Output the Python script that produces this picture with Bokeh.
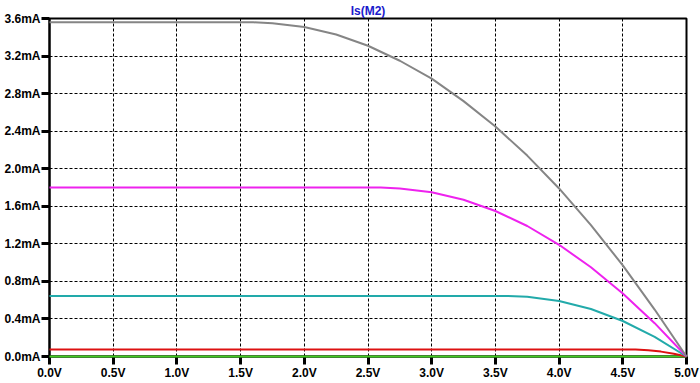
from bokeh.plotting import figure
from bokeh.models import Range1d, PrintfTickFormatter, FixedTicker
from bokeh.embed import file_html
from bokeh.resources import INLINE

# Voltage axis (V) and currents (mA)
v_gray = [0.0, 0.5, 1.0, 1.5, 1.6, 1.75, 2.0, 2.25, 2.5, 2.75, 3.0, 3.25, 3.5, 3.75, 4.0, 4.25, 4.5, 4.75, 5.0]
i_gray = [3.56, 3.56, 3.56, 3.56, 3.56, 3.55, 3.51, 3.43, 3.31, 3.15, 2.96, 2.72, 2.45, 2.14, 1.79, 1.40, 0.97, 0.50, 0.0]

v_mag = [0.0, 1.0, 2.0, 2.6, 2.75, 3.0, 3.25, 3.5, 3.75, 4.0, 4.25, 4.5, 4.75, 5.0]
i_mag = [1.80, 1.80, 1.80, 1.80, 1.79, 1.75, 1.67, 1.55, 1.39, 1.19, 0.95, 0.67, 0.355, 0.0]

v_cyan = [0.0, 1.0, 2.0, 3.0, 3.6, 3.75, 4.0, 4.25, 4.5, 4.75, 5.0]
i_cyan = [0.645, 0.645, 0.645, 0.645, 0.645, 0.637, 0.592, 0.506, 0.378, 0.21, 0.0]

v_red = [0.0, 1.0, 2.0, 3.0, 4.0, 4.55, 4.6, 4.7, 4.8, 4.9, 5.0]
i_red = [0.075, 0.075, 0.075, 0.075, 0.075, 0.075, 0.074, 0.067, 0.052, 0.03, 0.0]

v_green = [0.0, 5.0]
i_green = [0.0, 0.0]

x_ticks = [0.0, 0.5, 1.0, 1.5, 2.0, 2.5, 3.0, 3.5, 4.0, 4.5, 5.0]
y_ticks = [0.0, 0.4, 0.8, 1.2, 1.6, 2.0, 2.4, 2.8, 3.2, 3.6]
title_text = "Is(M2)"

p = figure(width=700, height=383, output_backend="svg", toolbar_location=None,
           x_range=Range1d(0, 5), y_range=Range1d(0, 3.6),
           min_border_left=49, min_border_right=14, min_border_top=18, min_border_bottom=27)
p.background_fill_color = "white"
p.border_fill_color = "white"
p.outline_line_color = "black"
p.outline_line_width = 2

p.title.text = title_text
p.title.align = "center"
p.title.text_color = "#1a1acc"
p.title.text_font = "Liberation Sans"
p.title.text_font_style = "bold"
p.title.text_font_size = "12px"
p.title.standoff = 2
p.title.offset = 0

for ax, ticks, fmt in ((p.xaxis, x_ticks, "%.1fV"), (p.yaxis, y_ticks, "%.1fmA")):
    ax.ticker = FixedTicker(ticks=ticks)
    ax.formatter = PrintfTickFormatter(format=fmt)
    ax.axis_line_color = "black"
    ax.axis_line_width = 2
    ax.major_tick_line_color = "black"
    ax.major_tick_line_width = 3
    ax.minor_tick_line_color = None
    ax.major_tick_in = 0
    ax.major_label_text_font = "Liberation Sans"
    ax.major_label_text_font_style = "bold"
    ax.major_label_text_font_size = "12px"
    ax.major_label_text_color = "black"

p.yaxis.major_tick_out = 8
p.yaxis.major_label_standoff = 1
p.xaxis.major_tick_out = 8
p.xaxis.major_label_standoff = 1

for g, ticks in ((p.xgrid, x_ticks), (p.ygrid, y_ticks)):
    g.ticker = FixedTicker(ticks=ticks)
    g.grid_line_color = "black"
    g.grid_line_width = 1
    g.grid_line_dash = "3 2"

series = [
    (v_green, i_green, "#44cc22"),
    (v_red, i_red, "#dd1111"),
    (v_cyan, i_cyan, "#22aaaa"),
    (v_mag, i_mag, "#ee22ee"),
    (v_gray, i_gray, "#858585"),
]
for xs, ys, col in series:
    r = p.line(xs, ys, line_color=col, line_width=2)
    r.level = "overlay"

open("out.html", "w").write(file_html(p, INLINE))
